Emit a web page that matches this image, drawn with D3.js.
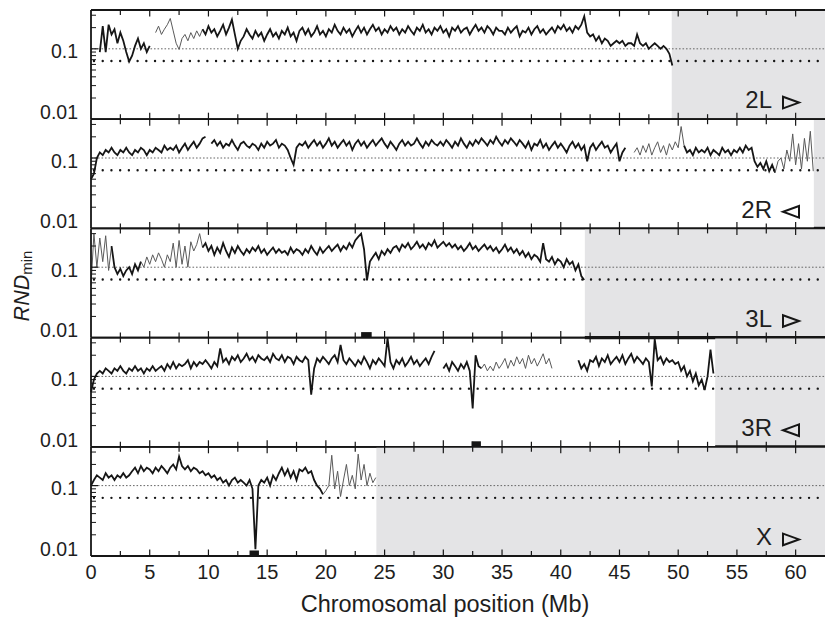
<!DOCTYPE html>
<html><head><meta charset="utf-8">
<script src="https://cdn.jsdelivr.net/npm/d3@7"></script>
<style>body{margin:0;background:#fff}svg{display:block}text{font-family:"Liberation Sans",Arial,Helvetica,sans-serif;fill:#1e1e1e}</style>
</head><body><svg id="c" width="825" height="617"></svg>
<script>
// ---------------- data ----------------
const chromosomes = ["2L", "2R", "3L", "3R", "X"];
const chromLengths = [49.45, 61.55, 42.05, 53.15, 24.3];
const arrowDir = ["right", "left", "right", "left", "right"];
const xMajorTicks = [0, 5, 10, 15, 20, 25, 30, 35, 40, 45, 50, 55, 60];
const xMinorTicks = [2.5, 7.5, 12.5, 17.5, 22.5, 27.5, 32.5, 37.5, 42.5, 47.5, 52.5, 57.5];
const yLabelTicks = [0.1, 0.01];
const yMinorTicks = [0.02, 0.03, 0.04, 0.05, 0.06, 0.07, 0.08, 0.09, 0.2, 0.3];
const refLine = 0.1;
const threshold = 0.067;
const step = 0.25; // Mb between consecutive values

const rnd2L = [
  {start: 0.75, values: [0.09,0.21,0.09,0.22,0.16,0.19,0.12,0.17,0.13,0.09,0.066,0.08,0.11,0.14,0.10,0.12,0.09,0.11]},
  {start: 5.5, values: [
    0.17,0.21,
    0.16,0.19,0.22,0.27, 0.18,0.12,0.098,0.14, 0.16,0.13,0.17,0.14, 0.18,0.15,0.19,0.16,
    0.21,0.17,0.19,0.15, 0.18,0.22,0.16,0.2, 0.26,0.16,0.1,0.13, 0.15,0.19,0.16,0.14,
    0.18,0.15,0.17,0.13, 0.16,0.19,0.15,0.17, 0.14,0.18,0.16,0.2, 0.15,0.17,0.13,0.18,
    0.2,0.16,0.19,0.15, 0.17,0.21,0.16,0.18, 0.15,0.19,0.17,0.22, 0.18,0.16,0.2,0.17,
    0.19,0.15,0.18,0.21, 0.17,0.2,0.16,0.19, 0.22,0.18,0.2,0.16, 0.19,0.17,0.21,0.18,
    0.2,0.16,0.19,0.17, 0.21,0.18,0.16,0.2, 0.18,0.22,0.17,0.19, 0.16,0.2,0.18,0.21,
    0.17,0.19,0.15,0.2, 0.18,0.21,0.17,0.19, 0.2,0.16,0.19,0.22, 0.18,0.2,0.17,0.21,
    0.19,0.16,0.2,0.18, 0.18,0.16,0.2,0.17, 0.19,0.21,0.15,0.18, 0.17,0.2,0.16,0.19,
    0.21,0.17,0.19,0.16, 0.18,0.2,0.17,0.21, 0.19,0.22,0.18,0.2, 0.17,0.21,0.19,0.22,
    0.29,0.17,0.15,0.16, 0.13,0.15,0.12,0.14, 0.13,0.11,0.12,0.13, 0.12,0.13,0.11,0.12,
    0.12,0.11,0.16,0.12, 0.11,0.12,0.1,0.11, 0.12,0.11,0.1,0.11,
    0.1,0.085,0.058]}
];
const rnd2R = [
  {start: 0, values: [
    0.05,0.06,0.1,0.12, 0.11,0.13,0.12,0.14, 0.12,0.11,0.13,0.12, 0.14,0.12,0.11,0.13,
    0.12,0.14,0.13,0.11, 0.13,0.12,0.14,0.13, 0.12,0.15,0.13,0.14, 0.13,0.15,0.12,0.14,
    0.16,0.13,0.15,0.17, 0.14,0.16,0.19,0.2]},
  {start: 10.25, values: [
    0.16,0.18,0.15,
    0.17,0.14,0.16,0.15, 0.18,0.15,0.13,0.16, 0.17,0.15,0.14,0.16, 0.15,0.13,0.16,0.14,
    0.17,0.15,0.16,0.18, 0.14,0.16,0.15,0.13, 0.1,0.08,0.14,0.16, 0.15,0.17,0.14,0.16,
    0.18,0.15,0.17,0.14, 0.16,0.19,0.15,0.17, 0.14,0.16,0.18,0.15, 0.17,0.13,0.16,0.18,
    0.15,0.17,0.14,0.16, 0.18,0.15,0.17,0.19, 0.16,0.14,0.17,0.15, 0.13,0.16,0.18,0.15,
    0.17,0.15,0.16,0.19, 0.16,0.14,0.17,0.15, 0.18,0.16,0.15,0.17, 0.15,0.18,0.16,0.14,
    0.17,0.15,0.19,0.16, 0.14,0.17,0.15,0.18, 0.16,0.19,0.17,0.15, 0.18,0.16,0.2,0.17,
    0.15,0.18,0.16,0.19, 0.17,0.15,0.18,0.16, 0.14,0.17,0.13,0.16, 0.15,0.18,0.14,0.16,
    0.13,0.15,0.17,0.14, 0.16,0.14,0.12,0.15, 0.17,0.14,0.16,0.13, 0.15,0.09,0.14,0.16,
    0.13,0.15,0.17,0.14, 0.15,0.12,0.14,0.16, 0.09,0.12,0.14]},
  {start: 46.25, values: [
    0.12,0.14,0.11,
    0.15,0.12,0.16,0.11, 0.14,0.17,0.12,0.15, 0.11,0.16,0.13,0.17, 0.14,0.28,0.15,0.12,
    0.13,0.11,0.14,0.12, 0.13,0.12,0.14,0.11, 0.13,0.12,0.11,0.14, 0.12,0.13,0.11,0.13,
    0.12,0.14,0.12,0.15, 0.13,0.14,0.09,0.075, 0.085,0.07,0.09,0.065, 0.08,0.062,0.09,0.1,
    0.07,0.13,0.09,0.22, 0.08,0.16,0.07,0.19, 0.09,0.24,0.065]}
];
const rnd3L = [
  {start: 0, values: [
    0.055,0.3,0.1,0.26, 0.12,0.28,0.09,0.2, 0.1,0.08,0.095,0.075, 0.09,0.1,0.08,0.11,
    0.09,0.12,0.1,0.14, 0.11,0.15,0.12,0.16, 0.13,0.1,0.15,0.12, 0.22,0.1,0.24,0.11,
    0.2,0.1,0.23,0.17, 0.21,0.3,0.19,0.22, 0.17,0.2,0.15,0.19, 0.16,0.22,0.17,0.14,
    0.19,0.16,0.2,0.17, 0.15,0.18,0.16,0.19, 0.17,0.2,0.16,0.18, 0.15,0.17,0.19,0.16,
    0.18,0.16,0.17,0.15, 0.19,0.16,0.18,0.17, 0.15,0.18,0.16,0.2, 0.17,0.15,0.19,0.16,
    0.18,0.2,0.17,0.19, 0.21,0.17,0.2,0.18, 0.22,0.19,0.24,0.27, 0.3,0.18,0.065,0.12,
    0.14,0.16,0.13,0.17, 0.15,0.18,0.16,0.19, 0.2,0.17,0.21,0.19, 0.22,0.18,0.2,0.23,
    0.19,0.21,0.18,0.22, 0.2,0.24,0.19,0.21, 0.23,0.2,0.22,0.19, 0.21,0.18,0.2,0.17,
    0.19,0.22,0.18,0.2, 0.17,0.19,0.21,0.18, 0.2,0.17,0.19,0.16, 0.18,0.21,0.17,0.19,
    0.16,0.18,0.15,0.17, 0.14,0.16,0.13,0.15, 0.14,0.12,0.22,0.13, 0.12,0.14,0.11,0.13,
    0.12,0.1,0.13,0.11, 0.12,0.09,0.11,0.075, 0.066]}
];
const rnd3R = [
  {start: 0, values: [
    0.06,0.09,0.11,0.12, 0.11,0.13,0.12,0.11, 0.13,0.12,0.14,0.12, 0.11,0.13,0.12,0.14,
    0.12,0.13,0.11,0.13, 0.12,0.14,0.12,0.13, 0.14,0.12,0.15,0.13, 0.16,0.13,0.15,0.14,
    0.15,0.17,0.13,0.16, 0.14,0.16,0.15,0.17, 0.15,0.13,0.16,0.14, 0.25,0.16,0.18,0.15,
    0.19,0.17,0.2,0.16, 0.18,0.21,0.17,0.19, 0.16,0.2,0.18,0.17, 0.19,0.16,0.21,0.18,
    0.17,0.2,0.16,0.19, 0.18,0.15,0.19,0.17, 0.16,0.19,0.17,0.055, 0.13,0.18,0.16,0.19,
    0.17,0.15,0.18,0.2, 0.16,0.28,0.17,0.15, 0.18,0.16,0.14,0.17, 0.15,0.19,0.16,0.13,
    0.17,0.15,0.18,0.16, 0.14,0.35,0.16,0.13, 0.17,0.15,0.18,0.14, 0.16,0.19,0.15,0.17,
    0.14,0.16,0.18,0.15, 0.19,0.23]},
  {start: 30, values: [
    0.13,0.15,0.12,0.16, 0.14,0.12,0.15,0.13, 0.16,0.12,0.035,0.2, 0.14,0.13,0.15,0.12,
    0.14,0.12,0.16,0.13, 0.15,0.18,0.13,0.17, 0.14,0.19,0.15,0.18, 0.13,0.2,0.15,0.18,
    0.14,0.17,0.21,0.15, 0.18,0.13]},
  {start: 41.5, values: [
    0.17,0.13,
    0.15,0.12,0.17,0.16, 0.19,0.14,0.18,0.16, 0.2,0.15,0.17,0.19, 0.16,0.2,0.15,0.18,
    0.21,0.16,0.19,0.17, 0.15,0.18,0.16,0.072, 0.34,0.17,0.19,0.15, 0.18,0.16,0.17,0.15,
    0.16,0.12,0.14,0.1, 0.12,0.085,0.11,0.075, 0.09,0.064,0.1,0.24, 0.11]}
];
const rndX = [
  {start: 0, values: [
    0.1,0.12,0.14,0.13, 0.12,0.15,0.13,0.14, 0.12,0.14,0.13,0.15, 0.13,0.14,0.16,0.18,
    0.15,0.19,0.16,0.18, 0.17,0.15,0.18,0.16, 0.19,0.17,0.15,0.18, 0.2,0.17,0.26,0.19,
    0.17,0.19,0.16,0.18, 0.17,0.15,0.16,0.14, 0.15,0.13,0.14,0.12, 0.13,0.11,0.12,0.1,
    0.12,0.13,0.11,0.12, 0.11,0.1,0.12,0.09, 0.0125,0.1,0.12,0.11, 0.13,0.1,0.14,0.12,
    0.15,0.18,0.14,0.17, 0.13,0.16,0.12,0.17, 0.16,0.18,0.15,0.16, 0.12,0.1,0.09,0.075,
    0.085,0.1,0.27,0.09, 0.16,0.07,0.12,0.2, 0.1,0.14,0.09,0.28, 0.12,0.2,0.1,0.15,
    0.11,0.13]}
];
const seriesByChrom = [rnd2L, rnd2R, rnd3L, rnd3R, rndX];
// stretches drawn as thin grey trace
const thinRanges = [
  [[5.5, 9.5]],
  [[46.25, 50.5], [58.5, 61.5]],
  [[0, 1.75], [4.5, 9.5]],
  [[33.5, 39.25]],
  [[20.0, 24.25]]
];
const markBars = [{chrom: 2, start: 23.0, end: 23.9}, {chrom: 3, start: 32.4, end: 33.2}, {chrom: 4, start: 13.5, end: 14.3}];
const endBars = [{chrom: 1, start: 61.55}, {chrom: 2, start: 42.05}, {chrom: 3, start: 53.15}];

// ---------------- layout ----------------
const svg = d3.select("#c");
const L = 91, R = 826, T = 10, PH = 109.2;
const x = d3.scaleLinear().domain([0, (R - L) / 11.744]).range([L, R]);
const ink = "#161616";

chromosomes.forEach((name, i) => {
  const top = T + i * PH, bot = top + PH;
  const y = d3.scaleLog().domain([0.01, 0.356]).range([bot, top]);
  const g = svg.append("g");
  // grey region beyond chromosome end
  g.append("rect").attr("x", x(chromLengths[i])).attr("y", top).attr("width", R - x(chromLengths[i])).attr("height", PH)
    .attr("fill", "#e4e4e6");
  // reference lines
  g.append("line").attr("x1", L).attr("x2", R).attr("y1", y(refLine)).attr("y2", y(refLine))
    .attr("stroke", "#666").attr("stroke-width", 1).attr("stroke-dasharray", "1.6,1.9");
  g.append("line").attr("x1", L + 3).attr("x2", R).attr("y1", y(threshold)).attr("y2", y(threshold))
    .attr("stroke", ink).attr("stroke-width", 2.4).attr("stroke-linecap", "round").attr("stroke-dasharray", "0,8.72");
  // series
  const line = d3.line().x(d => x(d[0])).y(d => y(d[1]));
  const isThin = p => thinRanges[i].some(r => p >= r[0] - 1e-9 && p <= r[1] + 1e-9);
  seriesByChrom[i].forEach(seg => {
    const pts = seg.values.map((v, k) => [seg.start + k * step, v]);
    const runs = []; let cur = null, prev = null;
    pts.forEach(p => {
      const t = isThin(p[0]);
      if (!cur || cur.thin !== t) { cur = {thin: t, pts: prev ? [prev] : []}; runs.push(cur); }
      cur.pts.push(p); prev = p;
    });
    runs.forEach(r => {
      g.append("path").attr("d", line(r.pts)).attr("fill", "none")
        .attr("stroke", r.thin ? "#5a5a5a" : ink).attr("stroke-width", r.thin ? 1 : 1.8)
        .attr("stroke-linejoin", "miter");
    });
  });
  // frame
  g.append("line").attr("x1", L).attr("x2", R).attr("y1", top).attr("y2", top).attr("stroke", ink).attr("stroke-width", 1.8);
  g.append("line").attr("x1", L).attr("x2", R).attr("y1", bot).attr("y2", bot).attr("stroke", ink).attr("stroke-width", 1.8);
  g.append("line").attr("x1", L).attr("x2", L).attr("y1", top).attr("y2", bot).attr("stroke", ink).attr("stroke-width", 1.8);
  // x ticks (inward, top & bottom)
  const tk = (vals, len) => vals.filter(v => v > 0).forEach(v => {
    g.append("line").attr("x1", x(v)).attr("x2", x(v)).attr("y1", top).attr("y2", top + len).attr("stroke", ink).attr("stroke-width", 1.2);
    g.append("line").attr("x1", x(v)).attr("x2", x(v)).attr("y1", bot - len).attr("y2", bot).attr("stroke", ink).attr("stroke-width", 1.2);
  });
  tk(xMajorTicks, 6.5); tk(xMinorTicks, 5);
  // y ticks
  g.append("line").attr("x1", L).attr("x2", L + 7).attr("y1", y(0.1)).attr("y2", y(0.1)).attr("stroke", ink).attr("stroke-width", 1.2);
  yMinorTicks.forEach(v => g.append("line").attr("x1", L).attr("x2", L + 5).attr("y1", y(v)).attr("y2", y(v)).attr("stroke", ink).attr("stroke-width", 1));
  // y labels
  g.append("text").attr("x", 78).attr("y", y(yLabelTicks[0]) + 9.5).attr("text-anchor", "end").attr("font-size", 19.5).text(yLabelTicks[0]);
  g.append("text").attr("x", 78).attr("y", bot - 0.3).attr("text-anchor", "end").attr("font-size", 19.5).text(yLabelTicks[1]);
  // chromosome label + arrow
  const base = bot - 10.8;
  g.append("text").attr("x", 772).attr("y", base).attr("text-anchor", "end").attr("font-size", 24).text(name);
  const ax0 = 783, ax1 = 799, ah = 11.6;
  const tri = arrowDir[i] === "right"
    ? [[ax0, base - ah], [ax1, base - ah / 2], [ax0, base]]
    : [[ax1, base - ah], [ax0, base - ah / 2], [ax1, base]];
  g.append("path").attr("d", "M" + tri.map(p => p.join(",")).join("L") + "Z").attr("fill", "none")
    .attr("stroke", ink).attr("stroke-width", 2).attr("stroke-linejoin", "miter");
  // marks
  markBars.filter(m => m.chrom === i).forEach(m => {
    g.append("rect").attr("x", x(m.start)).attr("y", bot - 5.5).attr("width", x(m.end) - x(m.start)).attr("height", 5.5).attr("fill", ink);
  });
  endBars.filter(m => m.chrom === i).forEach(m => {
    g.append("line").attr("x1", x(m.start)).attr("x2", R).attr("y1", bot).attr("y2", bot).attr("stroke", ink).attr("stroke-width", 3.2);
  });
});

// x tick labels
const bottom = T + 5 * PH;
xMajorTicks.forEach(v => {
  svg.append("text").attr("x", x(v)).attr("y", bottom + 23).attr("text-anchor", "middle").attr("font-size", 20).text(v);
});
svg.append("text").attr("x", 445).attr("y", bottom + 55.5).attr("text-anchor", "middle").attr("font-size", 23.5).text("Chromosomal position (Mb)");
// y title
const yt = svg.append("text").attr("transform", "translate(29,286) rotate(-90)").attr("text-anchor", "middle");
yt.append("tspan").attr("font-size", 21.5).attr("font-style", "italic").text("RND");
yt.append("tspan").attr("font-size", 15).attr("dy", 3).text("min");
</script>
</body></html>
